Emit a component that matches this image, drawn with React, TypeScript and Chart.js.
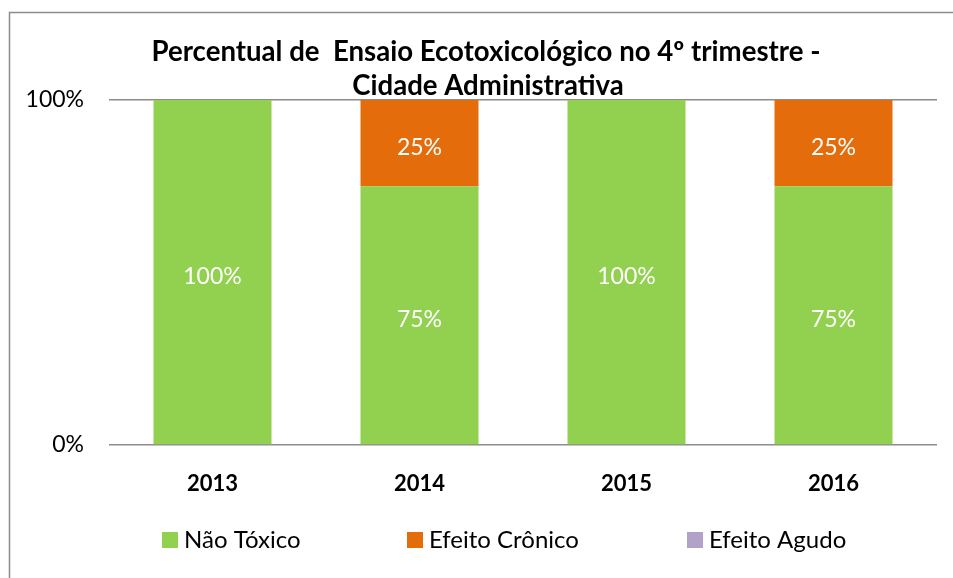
import React, { useEffect, useRef } from "react";
import { Chart, registerables } from "chart.js";

Chart.register(...registerables);

const categories = ["2013", "2014", "2015", "2016"];
const naoToxico = [100, 75, 100, 75];
const efeitoCronico = [0, 25, 0, 25];
const efeitoAgudo = [0, 0, 0, 0];
const yTicks = [0, 100];
const titleLines = ["Percentual de  Ensaio Ecotoxicológico no 4º trimestre -", "Cidade Administrativa"];

const FONT = "Lato, 'Open Sans', sans-serif";

const framePlugin = {
  id: "frame",
  beforeDraw(chart: any) {
    const ctx = chart.ctx;
    ctx.save();
    ctx.fillStyle = "#ffffff";
    ctx.fillRect(0, 0, chart.width, chart.height);
    ctx.strokeStyle = "#8c8c8c";
    ctx.lineWidth = 1.5;
    ctx.strokeRect(9.5, 12.5, chart.width + 20, chart.height + 20);
    ctx.restore();
  },
};

const titlePlugin = {
  id: "customTitle",
  afterDraw(chart: any) {
    const ctx = chart.ctx;
    ctx.save();
    ctx.fillStyle = "#000";
    ctx.font = `bold 27.6px ${FONT}`;
    ctx.textAlign = "center";
    ctx.textBaseline = "middle";
    ctx.fillText(titleLines[0], 486, 52);
    ctx.fillText(titleLines[1], 488, 86);
    ctx.restore();
  },
};

const labelPlugin = {
  id: "segLabels",
  afterDatasetsDraw(chart: any) {
    const ctx = chart.ctx;
    ctx.save();
    ctx.fillStyle = "#ffffff";
    ctx.font = `23px ${FONT}`;
    ctx.textAlign = "center";
    ctx.textBaseline = "middle";
    chart.data.datasets.forEach((ds: any, di: number) => {
      const meta = chart.getDatasetMeta(di);
      meta.data.forEach((bar: any, i: number) => {
        const v = ds.data[i];
        if (!v) return;
        const cy = (bar.y + bar.base) / 2 + 4.5;
        ctx.fillText(v + "%", bar.x, cy);
      });
    });
    ctx.restore();
  },
};

const legendPlugin = {
  id: "customLegend",
  afterDraw(chart: any) {
    const ctx = chart.ctx;
    ctx.save();
    ctx.font = `24px ${FONT}`;
    ctx.textBaseline = "middle";
    ctx.textAlign = "left";
    const xs = [162, 407, 687];
    const y = 540;
    chart.data.datasets.forEach((ds: any, i: number) => {
      ctx.fillStyle = ds.backgroundColor;
      ctx.fillRect(xs[i], y - 8, 16, 16);
      ctx.fillStyle = "#000";
      ctx.fillText(ds.label, xs[i] + 22, y);
    });
    ctx.restore();
  },
};

export default function App() {
  const ref = useRef<HTMLCanvasElement>(null);
  useEffect(() => {
    const chart = new Chart(ref.current!, {
      type: "bar",
      data: {
        labels: categories,
        datasets: [
          { label: "Não Tóxico", data: naoToxico, backgroundColor: "#92D050", categoryPercentage: 1, barPercentage: 0.57 },
          { label: "Efeito Crônico", data: efeitoCronico, backgroundColor: "#E46C0A", categoryPercentage: 1, barPercentage: 0.57 },
          { label: "Efeito Agudo", data: efeitoAgudo, backgroundColor: "#B3A2C7", categoryPercentage: 1, barPercentage: 0.57 },
        ],
      },
      options: {
        animation: false,
        responsive: false,
        maintainAspectRatio: false,
        layout: { padding: { left: 0, top: 100, right: 16, bottom: 73 } },
        plugins: {
          legend: { display: false },
          title: { display: false },
          tooltip: { enabled: false },
        },
        scales: {
          x: {
            stacked: true,
            grid: { display: false, drawTicks: false },
            border: { display: false },
            ticks: { color: "#000", font: { family: FONT, size: 22, weight: "bold" }, padding: 26 },
            afterFit(scale: any) { scale.height = 60; },
          },
          y: {
            stacked: true,
            min: 0,
            max: 100,
            afterBuildTicks(scale: any) { scale.ticks = yTicks.map((v) => ({ value: v })); },
            grid: { color: "#8c8c8c", lineWidth: 1.5, drawTicks: false },
            border: { display: false },
            ticks: { color: "#000", font: { family: FONT, size: 23 }, padding: 25, callback: (v: any) => v + "%" },
            afterFit(scale: any) { scale.width = 109; },
          },
        },
      },
      plugins: [framePlugin, titlePlugin, labelPlugin, legendPlugin],
    });
    return () => chart.destroy();
  }, []);
  return (
    <div style={{ position: "absolute", left: 0, top: 0, width: 953, height: 578 }}>
      <canvas ref={ref} width={953} height={578} style={{ display: "block" }} />
    </div>
  );
}
